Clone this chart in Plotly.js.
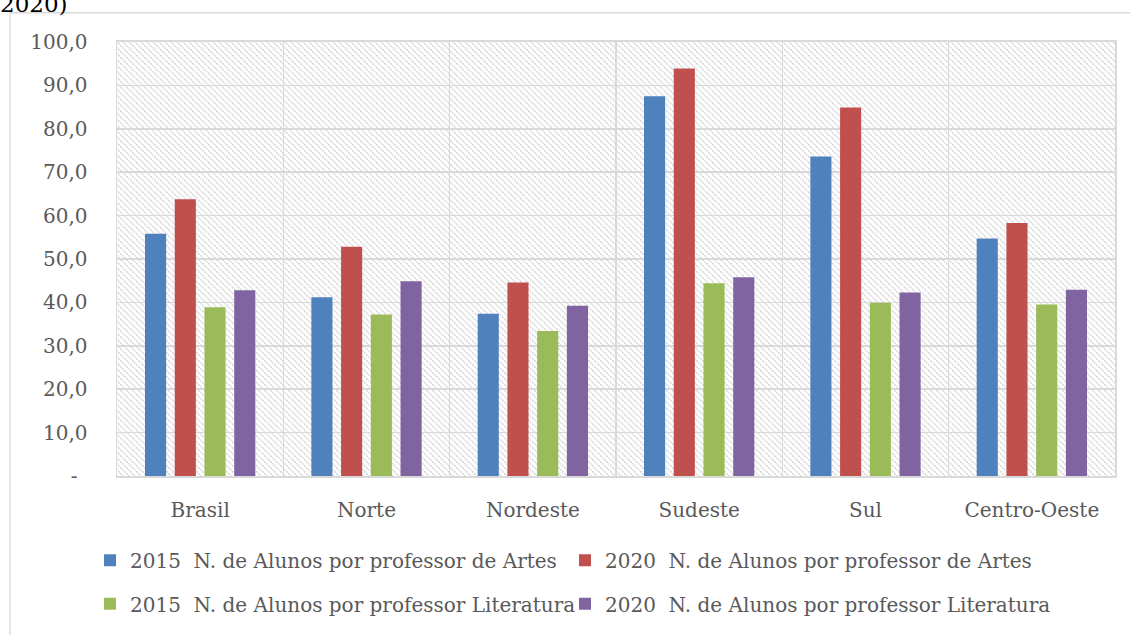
<!DOCTYPE html>
<html>
<head>
<meta charset="utf-8">
<script src="https://cdn.plot.ly/plotly-3.0.1.min.js"></script>
<style>html,body{margin:0;padding:0;background:#fff;}#chart{width:1130px;height:635px;}</style>
</head>
<body>
<div id="chart"></div>
<script>
const categories = ['Brasil', 'Norte', 'Nordeste', 'Sudeste', 'Sul', 'Centro-Oeste'];
const artes2015 = [55.8, 41.2, 37.4, 87.5, 73.6, 54.7];
const artes2020 = [63.75, 52.8, 44.6, 93.9, 84.9, 58.3];
const lit2015 = [38.9, 37.2, 33.4, 44.4, 39.9, 39.5];
const lit2020 = [42.8, 44.9, 39.2, 45.8, 42.3, 42.9];
const seriesNames = [
  '2015 \u00a0N. de Alunos por professor de Artes',
  '2020 \u00a0N. de Alunos por professor de Artes',
  '2015 \u00a0N. de Alunos por professor Literatura',
  '2020 \u00a0N. de Alunos por professor Literatura'
];
const yTickValues = [0, 10, 20, 30, 40, 50, 60, 70, 80, 90, 100];
const yTickLabels = ['-\u2002', '10,0', '20,0', '30,0', '40,0', '50,0', '60,0', '70,0', '80,0', '90,0', '100,0'];
const topText = '2020)';

const W = 1130, H = 635;
const L = 117, R = 15, T = 42, B = 155;
const PW = W - L - R, PH = H - T - B;
const px = p => (p - L) / PW;
const py = p => (H - B - p) / PH;

const FONT = 'DejaVu Serif, Liberation Serif, serif';
const TXT = '#595959';
const GRID = '#d9d9d9';

const hatchSvg = "<svg xmlns='http://www.w3.org/2000/svg' width='" + PW + "' height='" + PH + "'>" +
  "<defs><pattern id='p' width='6' height='6' patternUnits='userSpaceOnUse'>" +
  "<path d='M-1,-1 L7,7 M-1,5 L1,7 M5,-1 L7,1' stroke='#d2d2d2' stroke-width='1.5' stroke-dasharray='2,1'/>" +
  "</pattern></defs><rect width='100%' height='100%' fill='#ffffff'/>" +
  "<rect width='100%' height='100%' fill='url(#p)'/></svg>";
const hatchSrc = 'data:image/svg+xml;charset=utf-8,' + encodeURIComponent(hatchSvg);

const colors = ['#4F81BD', '#C0504D', '#9BBB59', '#8064A2'];
const values = [artes2015, artes2020, lit2015, lit2020];
const legendIds = ['legend', 'legend2', 'legend3', 'legend4'];
// legend box positions in pixels (left, vertical centre)
const legendPos = [[90, 565], [565, 565], [90, 609], [565, 609]];

const data = values.map((v, i) => ({
  type: 'bar',
  x: categories,
  y: v,
  name: seriesNames[i],
  marker: {color: colors[i], line: {width: 0}},
  legend: legendIds[i],
  hoverinfo: 'x+y+name'
}));

const layout = {
  width: W,
  height: H,
  margin: {l: L, r: R, t: T, b: B, pad: 0},
  paper_bgcolor: '#ffffff',
  plot_bgcolor: '#ffffff',
  font: {family: FONT, size: 20, color: TXT},
  barmode: 'group',
  bargap: 0.285,
  bargroupgap: 0.29,
  showlegend: true,
  xaxis: {
    type: 'category',
    tickson: 'boundaries',
    showgrid: true,
    gridcolor: GRID,
    gridwidth: 1.5,
    showline: true,
    mirror: true,
    linecolor: GRID,
    linewidth: 2,
    ticks: '',
    ticklabelstandoff: 15,
    tickfont: {family: FONT, size: 20, color: TXT},
    fixedrange: true
  },
  yaxis: {
    range: [0, 100],
    tickvals: yTickValues,
    ticktext: yTickLabels,
    showgrid: true,
    gridcolor: GRID,
    gridwidth: 1.5,
    zeroline: false,
    showline: true,
    mirror: true,
    linecolor: GRID,
    linewidth: 1.5,
    ticks: '',
    ticklabelstandoff: 24,
    tickfont: {family: FONT, size: 20, color: TXT},
    fixedrange: true
  },
  images: [{
    source: hatchSrc,
    xref: 'paper', yref: 'paper',
    x: 0, y: 1, sizex: 1, sizey: 1,
    xanchor: 'left', yanchor: 'top',
    sizing: 'stretch',
    layer: 'below'
  }],
  shapes: [{
    type: 'rect',
    xref: 'paper', yref: 'paper',
    x0: px(10), x1: px(1140),
    y0: py(645), y1: py(12.5),
    line: {color: GRID, width: 1.3},
    fillcolor: 'rgba(0,0,0,0)',
    layer: 'below'
  }],
  annotations: [{
    text: topText,
    xref: 'paper', yref: 'paper',
    x: px(-2), y: py(19),
    xanchor: 'left', yanchor: 'bottom',
    showarrow: false,
    font: {family: FONT, size: 23, color: '#000000'}
  }]
};

legendIds.forEach((id, i) => {
  layout[id] = {
    orientation: 'h',
    x: px(legendPos[i][0]),
    y: py(legendPos[i][1]),
    xanchor: 'left',
    yanchor: 'middle',
    font: {family: FONT, size: 20, color: TXT},
    bgcolor: 'rgba(0,0,0,0)',
    borderwidth: 0
  };
});

Plotly.newPlot('chart', data, layout, {staticPlot: true, displayModeBar: false});
</script>
</body>
</html>
